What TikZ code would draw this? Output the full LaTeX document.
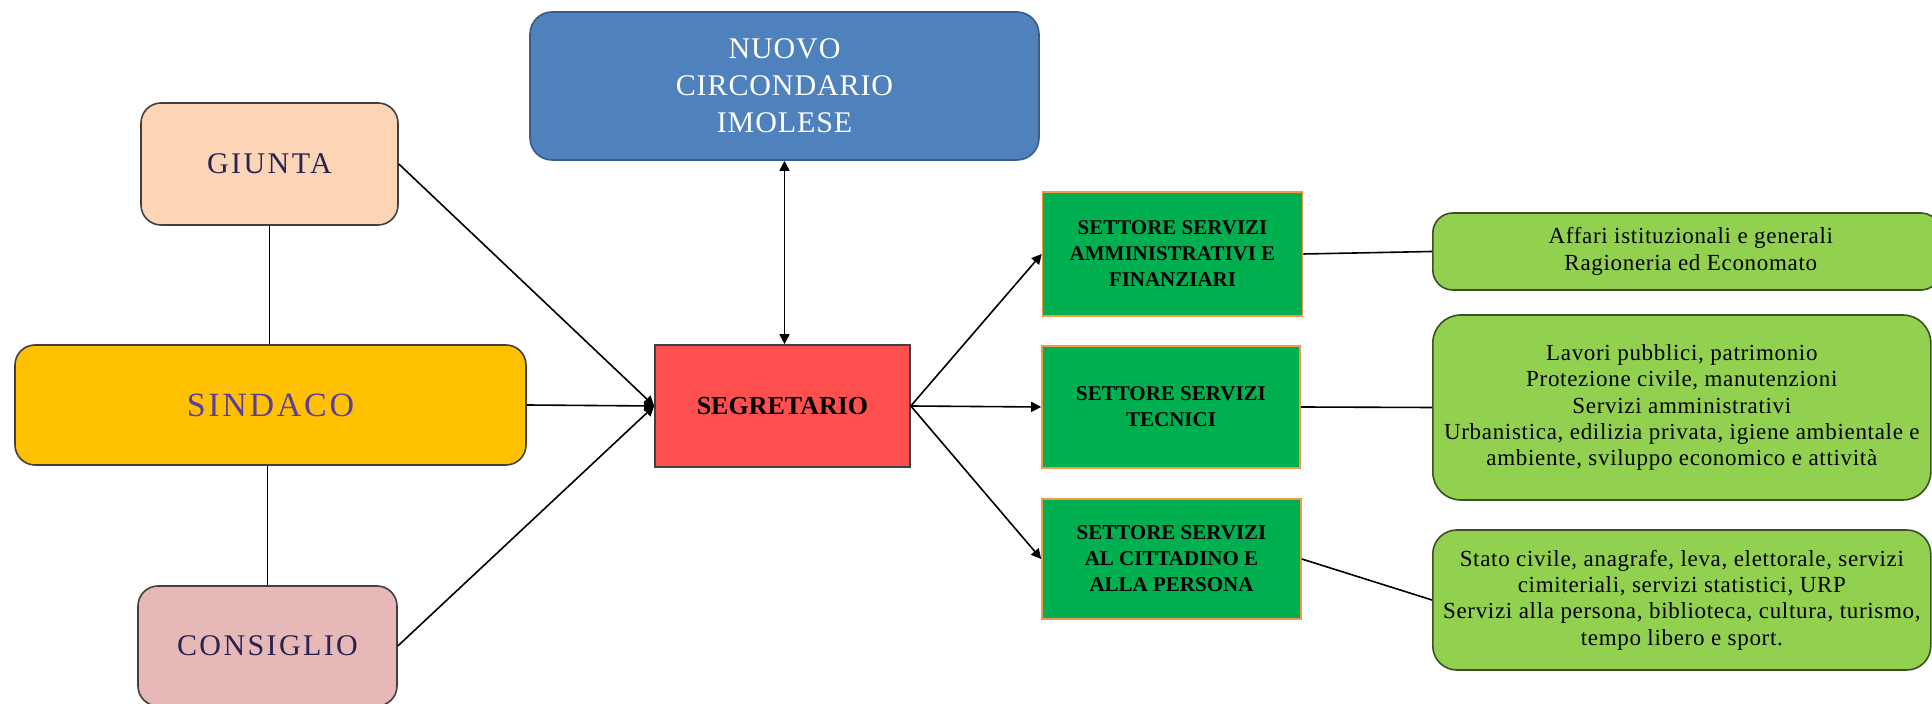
\documentclass[tikz,border=0pt]{standalone}
\usepackage{fontspec}
\setmainfont{Liberation Serif}
\newfontfamily\spacedfont[LetterSpace=8]{Liberation Serif}
\newfontfamily\wideblue[LetterSpace=3]{Liberation Serif}
\newfontfamily\taskfont[LetterSpace=3]{Liberation Serif}
\usetikzlibrary{arrows.meta}
\definecolor{cblue}{HTML}{4F81BD}
\definecolor{cbluedk}{HTML}{385D8A}
\definecolor{cpeach}{HTML}{FBD5B5}
\definecolor{cyellow}{HTML}{FFC000}
\definecolor{cpink}{HTML}{E6B9B8}
\definecolor{cred}{HTML}{FF5050}
\definecolor{cgreen}{HTML}{00B050}
\definecolor{corange}{HTML}{F79646}
\definecolor{clight}{HTML}{92D050}
\definecolor{clightdk}{HTML}{3F4F22}
\definecolor{cnavy}{HTML}{2A2250}
\definecolor{cpurple}{HTML}{5B3FA0}
\definecolor{cborder}{HTML}{404040}
\tikzset{
  box/.style={draw=cborder, line width=0.8pt, align=center, inner sep=0pt},
  roundbox/.style={box, rounded corners=10pt},
  sectorbox/.style={draw=corange, line width=0.8pt, fill=cgreen, align=center,
     inner sep=0pt, minimum width=130pt, minimum height=61pt,
     font=\fontsize{10.5}{13}\selectfont\bfseries},
  taskbox/.style={draw=clightdk, line width=0.8pt, fill=clight, rounded corners=10pt,
     align=center, inner sep=0pt, font=\fontsize{11.5}{13.2}\taskfont},
  conn/.style={line width=0.8pt, black},
  arr/.style={conn, -{Triangle[length=5pt,width=5pt]}},
  darr/.style={conn, {Triangle[length=5pt,width=5pt]}-{Triangle[length=5pt,width=5pt]}},
}
\begin{document}
\begin{tikzpicture}[x=0.5pt, y=-0.5pt]
\useasboundingbox (0,0) rectangle (1932,704);
% top
\node[roundbox, draw=cbluedk, fill=cblue, text=white, minimum width=254.5pt, minimum height=74pt,
  font=\fontsize{15}{18.5}\wideblue, rounded corners=11pt]
  (nuovo) at (784.5,86) {NUOVO\\CIRCONDARIO\\IMOLESE};
% left column
\node[roundbox, fill=cpeach, text=cnavy, minimum width=128.5pt, minimum height=61pt,
  font=\fontsize{15}{18}\spacedfont] (giunta) at (269.5,164) {GIUNTA};
\node[roundbox, fill=cyellow, text=cpurple, minimum width=255.5pt, minimum height=60pt,
  font=\fontsize{17}{20}\spacedfont] (sindaco) at (270.5,405) {SINDACO};
\node[roundbox, fill=cpink, text=cnavy, minimum width=129.5pt, minimum height=60pt,
  font=\fontsize{15}{18}\spacedfont] (consiglio) at (267.5,646) {CONSIGLIO};
% centre
\node[box, fill=cred, minimum width=127.5pt, minimum height=61pt,
  font=\fontsize{13}{16}\selectfont\bfseries] (segr) at (782.5,406) {SEGRETARIO};
% sectors
\node[sectorbox, minimum height=62pt] (s1) at (1172.5,254) {SETTORE SERVIZI\\AMMINISTRATIVI E\\FINANZIARI};
\node[sectorbox, minimum width=129pt] (s2) at (1171,407) {SETTORE SERVIZI\\TECNICI};
\node[sectorbox, minimum width=129.5pt, minimum height=60pt] (s3) at (1171.5,559) {SETTORE SERVIZI\\AL CITTADINO E\\ALLA PERSONA};
% tasks
\node[taskbox, minimum width=254pt, minimum height=38.5pt, anchor=west] (t1) at (1432,251.5)
  {\hspace*{4pt}Affari istituzionali e generali\\\hspace*{4pt}Ragioneria ed Economato};
\node[taskbox, minimum width=249pt, minimum height=92.5pt, anchor=west, rounded corners=14pt] (t2) at (1432,407.5)
  {Lavori pubblici, patrimonio\\Protezione civile, manutenzioni\\Servizi amministrativi\\Urbanistica, edilizia privata, igiene ambientale e\\ambiente, sviluppo economico e attività};
\node[taskbox, minimum width=249pt, minimum height=70pt, anchor=west, rounded corners=12pt] (t3) at (1432,600)
  {Stato civile, anagrafe, leva, elettorale, servizi\\cimiteriali, servizi statistici, URP\\Servizi alla persona, biblioteca, cultura, turismo,\\tempo libero e sport.};
% connectors left
\draw[conn] (giunta.south) -- (giunta.south |- sindaco.north);
\draw[conn] (consiglio.north) -- (consiglio.north |- sindaco.south);
\draw[arr] (giunta.east) -- (segr.west);
\draw[arr] (sindaco.east) -- (segr.west);
\draw[arr] (consiglio.east) -- (segr.west);
\draw[darr] (nuovo.south) -- (nuovo.south |- segr.north);
% connectors right
\draw[arr] (segr.east) -- (s1.west);
\draw[arr] (segr.east) -- (s2.west);
\draw[arr] (segr.east) -- (s3.west);
\draw[conn] (s1.east) -- (t1.west);
\draw[conn] (s2.east) -- (t2.west);
\draw[conn] (s3.east) -- (t3.west);
\end{tikzpicture}
\end{document}
